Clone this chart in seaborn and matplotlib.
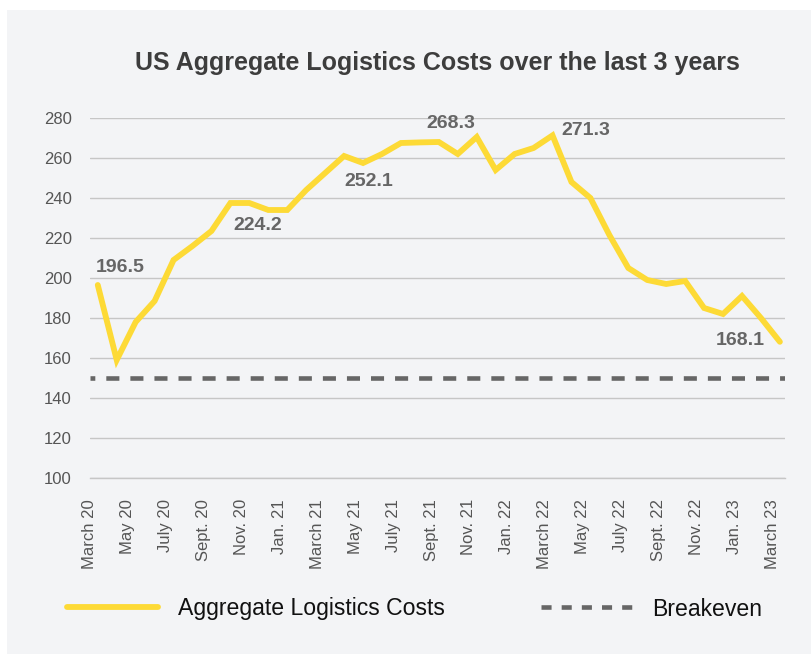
import numpy as np
import matplotlib.pyplot as plt
import seaborn as sns
from matplotlib.patches import Rectangle

# monthly index, March 2020 .. March 2023
costs = [196.5, 159, 178, 188.5, 209, 216, 223.5, 237.5, 237.5, 234,
         234, 244, 252.5, 261, 257.5, 262, 267.5, 267.8, 268, 262,
         270.5, 254, 262, 265, 271.3, 248, 240, 221.5, 205, 199,
         197, 198.5, 185, 182, 191, 180, 168.1]
breakeven = 150
tick_labels = ["March 20", "May 20", "July 20", "Sept. 20", "Nov. 20", "Jan. 21",
               "March 21", "May 21", "July 21", "Sept. 21", "Nov. 21", "Jan. 22",
               "March 22", "May 22", "July 22", "Sept. 22", "Nov. 22", "Jan. 23",
               "March 23"]
callouts = ["196.5", "224.2", "252.1", "268.3", "271.3", "168.1"]

panel = '#f3f4f6'
yellow = '#fdda36'
grey = '#666666'

sns.set_style('white')
plt.rcParams['font.family'] = ['Liberation Sans', 'DejaVu Sans']

fig = plt.figure(figsize=(8.11, 6.54), dpi=100, facecolor='white')
fig.patches.append(Rectangle((7/811, 0), 1, 1 - 10/654, transform=fig.transFigure,
                             facecolor=panel, edgecolor='none', zorder=-10))
ax = fig.add_axes([90/811, 1 - 478/654, 695/811, 360/654])
ax.set_facecolor(panel)

months = np.arange(len(costs))
sns.lineplot(x=months, y=costs, ax=ax, color=yellow, linewidth=4.2,
             solid_joinstyle='miter', zorder=3)
ax.axhline(breakeven, color=grey, linewidth=3.3, linestyle=(1.8, (2.85, 2.4)), zorder=2)

ax.set_xlim(-0.406, 36.27)
ax.set_ylim(100, 280)
ax.set_yticks(np.arange(100, 281, 20))
ax.set_xticks(np.arange(0, len(costs), 2) - 0.41)
ax.set_xticklabels(tick_labels, rotation=90)
ax.tick_params(axis='y', length=0, pad=13, labelsize=12, labelcolor='#555555')
ax.tick_params(axis='x', length=7.2, width=1, color='#c6c6c6', pad=8,
               labelsize=12, labelcolor='#555555')
ax.yaxis.grid(True, color='#c6c6c6', linewidth=1)
ax.xaxis.grid(False)
for s in ['left', 'top', 'right']:
    ax.spines[s].set_visible(False)
ax.spines['bottom'].set_color('#c6c6c6')
ax.spines['bottom'].set_linewidth(1)

# value callouts
spots = [(-0.1, 205), (7.14, 226), (13.0, 248), (17.36, 277.3), (24.48, 273.7), (32.6, 168.7)]
for txt, (x, y) in zip(callouts, spots):
    ax.text(x, y, txt, ha='left', va='center', fontsize=14, fontweight='bold',
            color=grey, clip_on=False, zorder=4)

fig.text(437.5/811, 1 - 63/654, "US Aggregate Logistics Costs over the last 3 years",
         ha='center', va='center', fontsize=18, fontweight='bold', color='#3d3d3d')

h1 = plt.Line2D([], [], color=yellow, linewidth=4.2, solid_capstyle='round')
h2 = plt.Line2D([], [], color=grey, linewidth=3.3, linestyle=(0, (2.2, 2.2)))
fig.legend([h1, h2], ["Aggregate Logistics Costs", "Breakeven"],
           loc='center left', bbox_to_anchor=(67/811, 1 - 609/654), ncol=2,
           frameon=False, fontsize=16.6, handlelength=3.95, handletextpad=0.85,
           columnspacing=4.2, borderpad=0, borderaxespad=0, labelcolor='#111111')

fig.savefig('out.png', dpi=100, facecolor='white')
